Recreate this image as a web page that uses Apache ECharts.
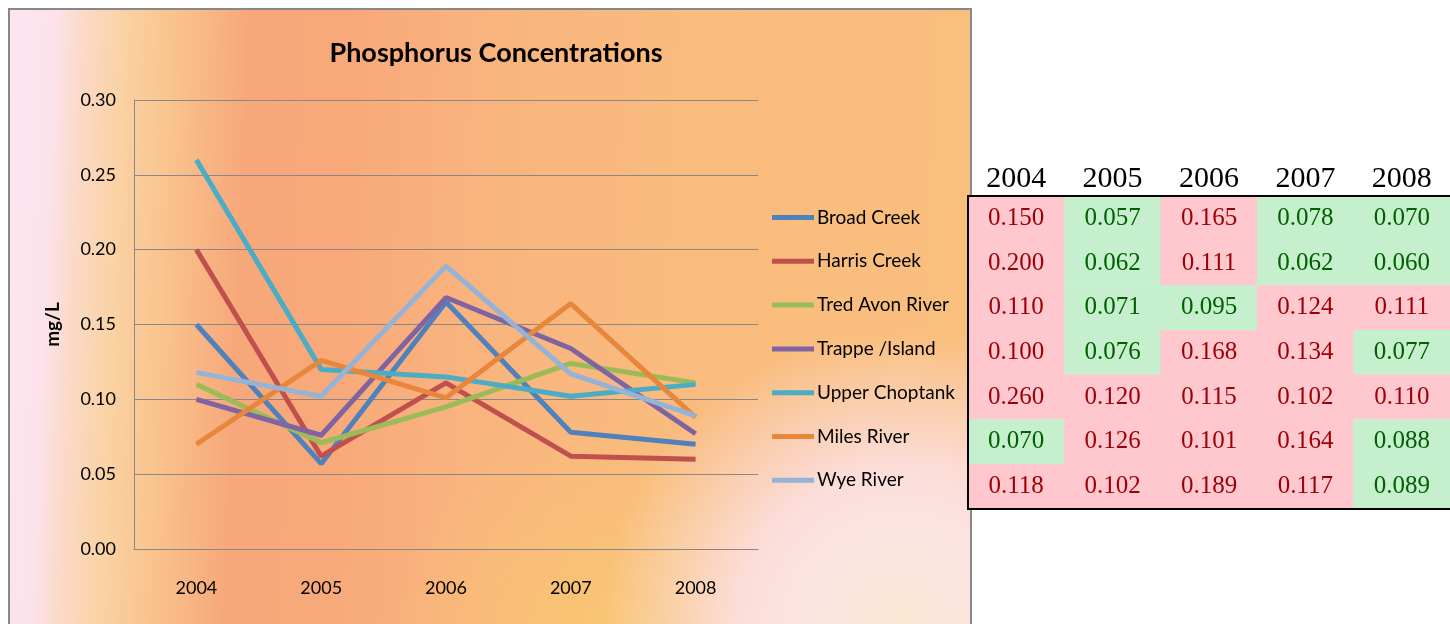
<!DOCTYPE html>
<html>
<head>
<meta charset="utf-8">
<script src="https://cdn.jsdelivr.net/npm/echarts@6/dist/echarts.min.js"></script>
<style>
  html, body { margin: 0; padding: 0; background: #fff; }
  #main { width: 1450px; height: 624px; }
</style>
</head>
<body>
<div id="main"></div>
<script>
const years = ['2004', '2005', '2006', '2007', '2008']
const rivers = ['Broad Creek', 'Harris Creek', 'Tred Avon River', 'Trappe /Island', 'Upper Choptank', 'Miles River', 'Wye River']
const broadCreek = [0.150, 0.057, 0.165, 0.078, 0.070]
const harrisCreek = [0.200, 0.062, 0.111, 0.062, 0.060]
const tredAvon = [0.110, 0.071, 0.095, 0.124, 0.111]
const trappeIsland = [0.100, 0.076, 0.168, 0.134, 0.077]
const upperChoptank = [0.260, 0.120, 0.115, 0.102, 0.110]
const milesRiver = [0.070, 0.126, 0.101, 0.164, 0.088]
const wyeRiver = [0.118, 0.102, 0.189, 0.117, 0.089]

const allValues = [broadCreek, harrisCreek, tredAvon, trappeIsland, upperChoptank, milesRiver, wyeRiver]
const colors = ['#4f81bd', '#c0504d', '#9bbb59', '#8064a2', '#4bacc6', '#e8873c', '#95b3d7']

const myChart = echarts.init(document.getElementById('main'))

// table cells: [column, row, value]
const cells = []
allValues.forEach(function (row, r) {
  row.forEach(function (v, c) {
    cells.push([c, r, v])
  })
})

const lineSeries = allValues.map(function (vals, i) {
  return {
    name: rivers[i],
    type: 'line',
    data: vals,
    xAxisIndex: 0,
    yAxisIndex: 0,
    symbol: 'none',
    lineStyle: { width: 5, color: colors[i] },
    itemStyle: { color: colors[i] },
    z: 3
  }
})

const option = {
  animation: false,
  backgroundColor: '#ffffff',
  title: {
    text: 'Phosphorus Concentrations',
    left: 491,
    textAlign: 'center',
    top: 35,
    textStyle: { fontFamily: 'Lato', fontWeight: 'bold', fontSize: 27, color: '#000' }
  },
  graphic: [
    {
      type: 'rect',
      z: -10,
      shape: { x: 9, y: 9, width: 962, height: 640 },
      style: {
        fill: {
          type: 'linear', x: 9, y: 0, x2: 971, y2: 40, global: true,
          colorStops: [
            { offset: 0, color: '#fde4f0' },
            { offset: 0.05, color: '#fce2ea' },
            { offset: 0.08, color: '#fbd9c6' },
            { offset: 0.12, color: '#fad2a4' },
            { offset: 0.17, color: '#f9c48e' },
            { offset: 0.25, color: '#f7a87a' },
            { offset: 0.36, color: '#f8a97a' },
            { offset: 0.5, color: '#f9b47e' },
            { offset: 0.7, color: '#f9bb7e' },
            { offset: 1, color: '#f9bf7d' }
          ]
        },
        stroke: '#888',
        lineWidth: 2
      }
    },
    {
      type: 'rect',
      z: -9,
      shape: { x: 380, y: 380, width: 500, height: 244 },
      style: {
        fill: {
          type: 'radial', x: 620, y: 660, r: 240, global: true,
          colorStops: [
            { offset: 0, color: 'rgba(249,200,112,0.9)' },
            { offset: 1, color: 'rgba(249,200,112,0)' }
          ]
        }
      }
    },
    {
      type: 'rect',
      z: -8,
      shape: { x: 600, y: 330, width: 370, height: 294 },
      style: {
        fill: {
          type: 'radial', x: 900, y: 630, r: 300, global: true,
          colorStops: [
            { offset: 0, color: 'rgba(251,230,210,1)' },
            { offset: 0.35, color: 'rgba(252,229,230,0.97)' },
            { offset: 0.55, color: 'rgba(252,228,238,0.8)' },
            { offset: 1, color: 'rgba(252,228,238,0)' }
          ]
        }
      }
    },
    // table frame, open on the right where the picture is cut off
    {
      type: 'polyline',
      z: 100,
      shape: { points: [[1460, 196], [968, 196], [968, 509], [1460, 509]] },
      style: { stroke: '#000', lineWidth: 2, fill: null }
    }
  ],
  legend: {
    orient: 'vertical',
    left: 772,
    top: 208,
    padding: 0,
    itemWidth: 42,
    itemHeight: 5,
    itemGap: 24.8,
    icon: 'rect',
    data: rivers,
    textStyle: { fontFamily: 'Lato', fontSize: 19, color: '#000', padding: [0, 0, 0, -2] }
  },
  visualMap: {
    show: false,
    type: 'piecewise',
    seriesIndex: 7,
    dimension: 2,
    pieces: [
      { lt: 0.1, color: '#c6efce' },
      { gte: 0.1, color: '#ffc7ce' }
    ]
  },
  grid: [
    { left: 134, top: 100, width: 624, height: 449 },
    { left: 968, top: 196, width: 490, height: 313, show: false }
  ],
  xAxis: [
    {
      type: 'category',
      gridIndex: 0,
      data: years,
      axisLine: { lineStyle: { color: '#888', width: 1 } },
      axisTick: { show: false },
      axisLabel: { color: '#000', fontFamily: 'Lato', fontSize: 18, margin: 30 }
    },
    {
      type: 'category',
      gridIndex: 1,
      position: 'top',
      data: years,
      axisLine: { show: false },
      axisTick: { show: false },
      splitLine: { show: false },
      axisLabel: { color: '#000', fontFamily: 'Liberation Serif', fontSize: 30, margin: 2 }
    }
  ],
  yAxis: [
    {
      type: 'value',
      gridIndex: 0,
      min: 0,
      max: 0.3,
      interval: 0.05,
      name: 'mg/L',
      nameLocation: 'middle',
      nameGap: 72,
      nameTextStyle: { fontFamily: 'Lato', fontWeight: 'bold', fontSize: 19, color: '#000' },
      axisLine: { show: true, lineStyle: { color: '#888', width: 1 } },
      axisTick: { show: false },
      splitLine: { lineStyle: { color: '#888', width: 1 } },
      axisLabel: {
        color: '#000',
        fontFamily: 'Lato',
        fontSize: 18,
        margin: 18,
        formatter: function (v) { return v.toFixed(2) }
      }
    },
    {
      type: 'category',
      gridIndex: 1,
      inverse: true,
      data: rivers,
      show: false
    }
  ],
  series: lineSeries.concat([
    {
      type: 'heatmap',
      xAxisIndex: 1,
      yAxisIndex: 1,
      data: cells,
      z: 2,
      label: {
        show: true,
        formatter: function (p) {
          const v = p.value[2].toFixed(3)
          return p.value[2] < 0.1 ? '{g|' + v + '}' : '{r|' + v + '}'
        },
        rich: {
          g: { color: '#006100', fontFamily: 'Liberation Serif', fontSize: 25 },
          r: { color: '#9c0006', fontFamily: 'Liberation Serif', fontSize: 25 }
        }
      },
      emphasis: { disabled: true }
    }
  ])
}

myChart.setOption(option)
window.addEventListener('resize', function () {
  myChart.resize()
})
</script>
</body>
</html>
